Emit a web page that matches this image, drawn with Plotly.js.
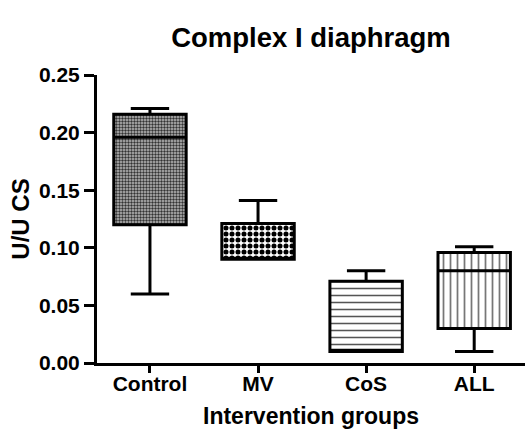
<!DOCTYPE html>
<html>
<head>
<meta charset="utf-8">
<script src="https://cdn.plot.ly/plotly-3.0.1.min.js"></script>
<style>html,body{margin:0;padding:0;background:#fff;}#chart{width:528px;height:429px;}</style>
</head>
<body>
<div id="chart"></div>
<script>
const categories = ['Control', 'MV', 'CoS', 'ALL'];
const q1 = [0.120, 0.090, 0.010, 0.030];
const median = [0.196, 0.091, 0.011, 0.080];
const q3 = [0.216, 0.121, 0.071, 0.096];
const lowerFence = [0.060, 0.090, 0.010, 0.010];
const upperFence = [0.221, 0.141, 0.080, 0.101];
const yTicks = [0, 0.05, 0.10, 0.15, 0.20, 0.25];

const patterns = [
  {shape: '.', size: 3, solidity: 0.5, fgcolor: '#333', bgcolor: '#bdbdbd'},
  {shape: '.', size: 6, solidity: 0.55, fgcolor: '#000', bgcolor: '#fff'},
  {shape: '-', size: 7, solidity: 0.22, fgcolor: '#555', bgcolor: '#fff'},
  {shape: '|', size: 7, solidity: 0.25, fgcolor: '#777', bgcolor: '#fff'}
];

const fillBars = categories.map((c, i) => ({
  type: 'bar',
  x: [c],
  y: [q3[i] - q1[i]],
  base: [q1[i]],
  width: 0.67,
  marker: {color: '#fff', line: {width: 0}, pattern: patterns[i]},
  hoverinfo: 'skip',
  showlegend: false
}));

const boxes = {
  type: 'box',
  x: categories,
  q1: q1,
  median: median,
  q3: q3,
  lowerfence: lowerFence,
  upperfence: upperFence,
  width: 0.67,
  whiskerwidth: 0.53,
  fillcolor: 'rgba(0,0,0,0)',
  line: {color: '#000', width: 3},
  showlegend: false,
  boxpoints: false
};

const fam = 'Liberation Sans, Arial, sans-serif';

const layout = {
  width: 528,
  height: 429,
  margin: {l: 97, r: 3, t: 75, b: 66},
  paper_bgcolor: '#fff',
  plot_bgcolor: '#fff',
  barmode: 'overlay',
  showlegend: false,
  font: {family: fam, color: '#000'},
  title: {
    text: '<b>Complex I diaphragm</b>',
    font: {family: fam, size: 27.5, color: '#000'},
    x: 0.5, xref: 'paper', xanchor: 'center',
    y: 33, yref: 'container', yanchor: 'middle'
  },
  xaxis: {
    type: 'category',
    categoryorder: 'array',
    categoryarray: categories,
    range: [-0.49, 3.47],
    showline: true, linecolor: '#000', linewidth: 3,
    ticks: 'outside', ticklen: 7, tickwidth: 3, tickcolor: '#000',
    ticklabelstandoff: -7,
    showgrid: false, zeroline: false,
    tickfont: {family: fam, size: 21, color: '#000', weight: 'bold'},
    title: {text: '<b>Intervention groups</b>', font: {family: fam, size: 23, color: '#000'}, standoff: 14}
  },
  yaxis: {
    range: [0, 0.25],
    tickvals: yTicks,
    tickformat: '.2f',
    showline: true, linecolor: '#000', linewidth: 3,
    ticks: 'outside', ticklen: 10, tickwidth: 3, tickcolor: '#000',
    showgrid: false, zeroline: false,
    tickfont: {family: fam, size: 21, color: '#000', weight: 'bold'},
    title: {text: '<b>U/U CS</b>', font: {family: fam, size: 24, color: '#000'}, standoff: 3}
  }
};

Plotly.newPlot('chart', fillBars.concat([boxes]), layout, {staticPlot: true, displayModeBar: false});
</script>
</body>
</html>
